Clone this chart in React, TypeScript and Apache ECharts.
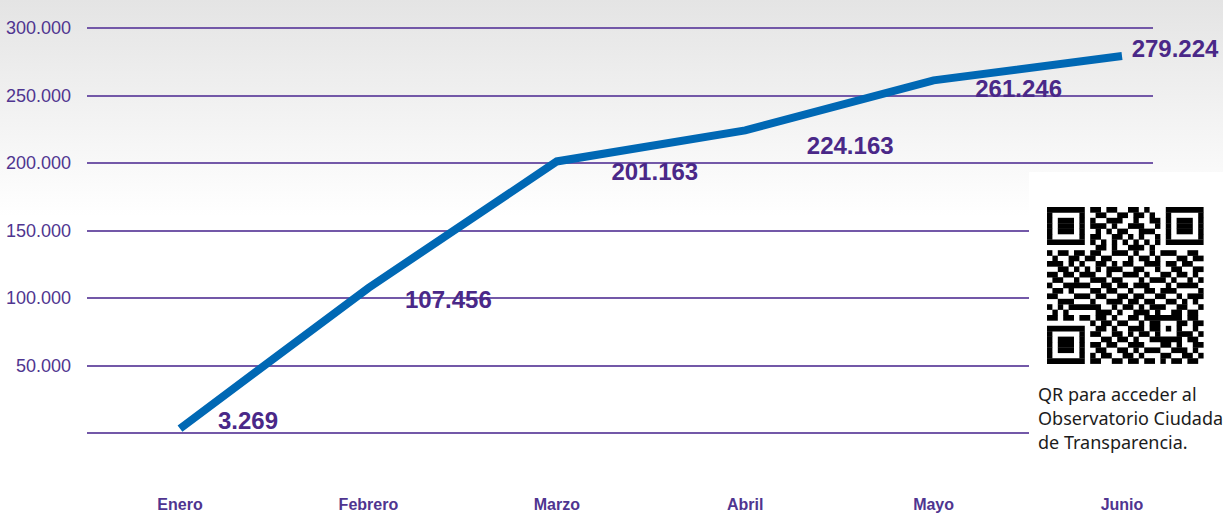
import React, { useEffect, useRef } from "react";
import * as echarts from "echarts";

const months = ["Enero", "Febrero", "Marzo", "Abril", "Mayo", "Junio"];
const values = [3269, 107456, 201163, 224163, 261246, 279224];
const yTicks = [0, 50000, 100000, 150000, 200000, 250000, 300000];
const labelOffsets: [number, number][] = [
  [68, -8],
  [80, 12],
  [98, 10],
  [105, 15],
  [85, 8],
  [53, -8],
];

const qrRows = [
  "11111110110110011010001111111",
  "10000010011001101101001000001",
  "10111010100111001001101011101",
  "10111010111010011100101011101",
  "10111010010101100111001011101",
  "10000010110011010100101000001",
  "11111110101010101010101111111",
  "00000000011010011101000000000",
  "10110110110011101001011100110",
  "01001101101100010110100011011",
  "11101010011010110011101101100",
  "00110101010111001100100110011",
  "11011011100100111010011011010",
  "01100100111011000101110100101",
  "10011111001101101110001011110",
  "01101000110110010011011100001",
  "11000111011001101100110010111",
  "00111000100111011011001101010",
  "10101111110010110101110011001",
  "01010000011101001110100110110",
  "11011011011010011011111110110",
  "00000000101101100101100011011",
  "11111110011010011101101010010",
  "10000010110011010110100011101",
  "10111010001101101001111110110",
  "10111010110110011100011010011",
  "10111010011001101011100111010",
  "10000010101100110100011001101",
  "11111110110011011011010110110",
];

function fmt(v: number): string {
  if (v === 0) return "";
  return String(v).replace(/\B(?=(\d{3})+(?!\d))/g, ".");
}

export default function App() {
  const ref = useRef<HTMLDivElement>(null);
  useEffect(() => {
    if (!ref.current) return;
    const chart = echarts.init(ref.current, null, { renderer: "svg" });

    const qrX = 1047;
    const qrY = 207;
    const cell = 5.4;
    const qrRects: any[] = [];
    qrRows.forEach((row, r) => {
      let c = 0;
      while (c < row.length) {
        if (row[c] === "1") {
          let e = c;
          while (e < row.length && row[e] === "1") e++;
          qrRects.push({
            type: "rect",
            shape: { x: qrX + c * cell, y: qrY + r * cell, width: (e - c) * cell, height: cell + 0.3 },
            style: { fill: "#000000" },
            z: 11,
          });
          c = e;
        } else c++;
      }
    });

    const purple = "#4f3590";
    chart.setOption({
      animation: false,
      backgroundColor: "#ffffff",
      grid: [
        { left: 87, right: 70, top: 28, bottom: 82, outerBoundsMode: "none", containLabel: false },
        { left: 180, right: 101, top: 28, bottom: 82, outerBoundsMode: "none", containLabel: false },
      ],
      xAxis: [
        { type: "category", gridIndex: 0, data: months, show: false },
        {
          type: "category",
          gridIndex: 1,
          data: months,
          boundaryGap: false,
          z: 20,
          axisLine: { show: false },
          axisTick: { show: false },
          splitLine: { show: false },
          axisLabel: {
            margin: 63,
            interval: 0,
            color: purple,
            fontSize: 16,
            fontWeight: "bold",
            fontFamily: "'Liberation Sans Narrow', 'Arial Narrow', 'Liberation Sans', sans-serif",
          },
        },
      ],
      yAxis: [
        {
          type: "value",
          gridIndex: 0,
          min: yTicks[0],
          max: yTicks[yTicks.length - 1],
          interval: yTicks[1] - yTicks[0],
          axisLine: { show: false },
          axisTick: { show: false },
          splitLine: { show: true, lineStyle: { color: "#7358a8", width: 1.8 } },
          axisLabel: {
            margin: 16,
            color: purple,
            fontSize: 18,
            fontFamily: "'Liberation Sans Narrow', 'Arial Narrow', 'Liberation Sans', sans-serif",
            formatter: (v: number) => fmt(v),
          },
        },
        {
          type: "value",
          gridIndex: 1,
          min: yTicks[0],
          max: yTicks[yTicks.length - 1],
          show: false,
        },
      ],
      graphic: [
        {
          type: "rect",
          z: -10,
          shape: { x: 0, y: 0, width: 1223, height: 515 },
          style: {
            fill: new echarts.graphic.LinearGradient(0, 0, 0, 1, [
              { offset: 0, color: "#e4e4e4" },
              { offset: 0.42, color: "#ffffff" },
              { offset: 1, color: "#ffffff" },
            ]),
          },
        },
        {
          type: "rect",
          z: 10,
          shape: { x: 1029, y: 172, width: 194, height: 343 },
          style: { fill: "#ffffff" },
        },
        ...qrRects,
        {
          type: "text",
          z: 11,
          x: 1038,
          y: 382,
          style: {
            text: "QR para acceder al\nObservatorio Ciudadano\nde Transparencia.",
            fill: "#1c1c1c",
            fontSize: 18,
            fontFamily: "'Noto Sans', 'Open Sans', sans-serif",
            lineHeight: 24,
          },
        },
      ],
      series: [
        {
          type: "line",
          xAxisIndex: 1,
          yAxisIndex: 1,
          data: values.map((v, i) => ({
            value: v,
            label: { offset: labelOffsets[i] },
          })),
          showSymbol: true,
          symbol: "circle",
          symbolSize: 1,
          itemStyle: { color: "rgba(0,0,0,0)" },
          lineStyle: { color: "#0068b4", width: 8, cap: "butt", join: "miter" },
          label: {
            show: true,
            position: "inside",
            color: "#4a2888",
            fontSize: 24,
            fontWeight: "bold",
            fontFamily: "'Liberation Sans', Arial, sans-serif",
            formatter: (p: any) => fmt(p.value),
          },
          z: 3,
        },
      ],
    });
    return () => chart.dispose();
  }, []);
  return (
    <div
      ref={ref}
      style={{ position: "fixed", left: 0, top: 0, width: 1223, height: 515 }}
    />
  );
}
